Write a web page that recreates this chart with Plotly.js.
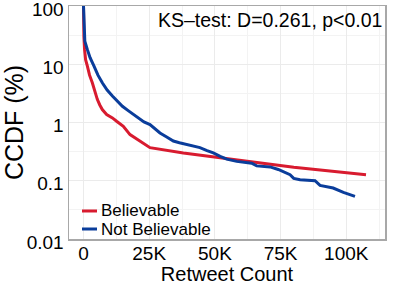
<!DOCTYPE html>
<html>
<head>
<meta charset="utf-8">
<script src="https://cdn.plot.ly/plotly-3.0.1.min.js"></script>
<style>html,body{margin:0;padding:0;background:#fff;}#chart{width:395px;height:285px;}</style>
</head>
<body>
<div id="chart"></div>
<script>
// Believable (red) CCDF
const believableX = [0, 0, 150, 400, 800, 1450, 2300, 3350, 4300, 5250, 6200, 7150, 8800, 11000, 12600, 15150, 17700, 19500, 21500, 23500, 25300, 38000, 52000, 80000, 107500];
const believableY = [100, 50, 30, 18, 12, 9.4, 6.5, 4.8, 3.4, 2.5, 2.0, 1.67, 1.37, 1.2, 1.05, 0.86, 0.62, 0.55, 0.48, 0.42, 0.37, 0.30, 0.25, 0.17, 0.127];
// Not Believable (blue) CCDF
const notBelievableX = [0, 100, 190, 500, 1450, 2500, 4000, 5500, 7150, 9000, 11000, 13000, 14800, 17000, 19900, 23000, 25300, 27000, 29100, 31500, 34200, 36500, 39300, 42000, 44300, 47000, 49400, 52000, 54500, 58300, 62000, 64000, 65900, 71000, 74100, 76700, 78600, 80000, 82400, 88100, 90000, 95000, 98900, 103300];
const notBelievableY = [100, 60, 35, 25, 18, 13, 9.3, 6.5, 4.8, 3.6, 2.85, 2.3, 1.9, 1.6, 1.29, 1.02, 0.92, 0.78, 0.66, 0.57, 0.48, 0.45, 0.42, 0.39, 0.37, 0.33, 0.30, 0.262, 0.235, 0.215, 0.205, 0.20, 0.18, 0.173, 0.156, 0.136, 0.127, 0.11, 0.104, 0.10, 0.083, 0.075, 0.063, 0.054];

const xTickVals = [0, 25000, 50000, 75000, 100000];
const xTickText = ["0", "25K", "50K", "75K", "100K"];
const yTickVals = [0.01, 0.1, 1, 10, 100];
const yTickText = ["0.01", "0.1", "1", "10", "100"];
const seriesNames = ["Believable", "Not Believable"];
const seriesColors = ["#D81B2F", "#0A3D9B"];
const annotationText = "KS–test: D=0.261, p&lt;0.01";

const FONT = "Liberation Sans, Arial, Helvetica, sans-serif";

const traces = [
  {x: believableX, y: believableY, name: seriesNames[0], mode: "lines",
   line: {color: seriesColors[0], width: 3}, showlegend: false},
  {x: notBelievableX, y: notBelievableY, name: seriesNames[1], mode: "lines",
   line: {color: seriesColors[1], width: 3}, showlegend: false}
];

// Legend (drawn in paper coordinates, inside bottom-left of the panel)
const legendRowsY = [0.1202, 0.0429];
const legendShapes = seriesNames.map((n, i) => ({
  type: "line", xref: "paper", yref: "paper",
  x0: 0.0411, x1: 0.0886, y0: legendRowsY[i], y1: legendRowsY[i],
  line: {color: seriesColors[i], width: 3}
}));
const legendLabels = seriesNames.map((n, i) => ({
  text: n, xref: "paper", yref: "paper", x: 0.095, y: legendRowsY[i],
  xanchor: "left", yanchor: "middle", showarrow: false,
  font: {size: 17, family: FONT, color: "#000"}
}));

const layout = {
  width: 395, height: 285,
  margin: {l: 69, r: 10, t: 6, b: 46},
  paper_bgcolor: "#fff", plot_bgcolor: "#fff",
  font: {family: FONT, color: "#000"},
  showlegend: false,
  xaxis: {
    range: [-5518, 114726], tickvals: xTickVals, ticktext: xTickText,
    tickfont: {size: 19, family: FONT}, ticks: "", ticklabelstandoff: -3,
    showgrid: true, gridcolor: "#EBEBEB", gridwidth: 1,
    minor: {tickvals: [12500, 37500, 62500, 87500, 112500], showgrid: true, gridcolor: "#F3F3F3", gridwidth: 1, ticks: ""},
    showline: true, linecolor: "#A8A8A8", linewidth: 1.5, mirror: true,
    zeroline: false,
    title: {text: "Retweet Count", font: {size: 20, family: FONT}, standoff: 0}
  },
  yaxis: {
    type: "log", range: [-2, 2], tickvals: yTickVals, ticktext: yTickText,
    tickfont: {size: 19, family: FONT}, ticks: "", ticklabeloverflow: "allow",
    ticklabelshift: 3,
    showgrid: true, gridcolor: "#EBEBEB", gridwidth: 1,
    minor: {tickvals: [0.0316, 0.316, 3.16, 31.6], showgrid: true, gridcolor: "#F3F3F3", gridwidth: 1, ticks: ""},
    showline: true, linecolor: "#A8A8A8", linewidth: 1.5, mirror: true,
    zeroline: false,
    title: {text: "CCDF (%)", font: {size: 25, family: FONT}, standoff: 4}
  },
  shapes: legendShapes,
  annotations: [{
    text: annotationText, xref: "paper", yref: "paper", x: 1, y: 1,
    xanchor: "right", yanchor: "top", showarrow: false, xshift: -1, yshift: -1,
    font: {size: 19.5, family: FONT, color: "#000"}
  }].concat(legendLabels)
};

Plotly.newPlot("chart", traces, layout, {displayModeBar: false, staticPlot: true});
</script>
</body>
</html>
